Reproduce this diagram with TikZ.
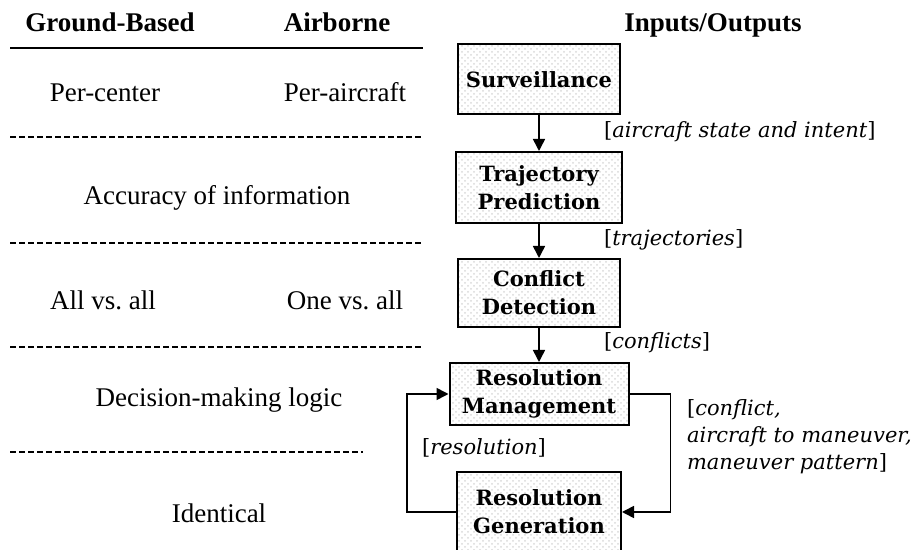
\documentclass[tikz,border=0pt]{standalone}
\usepackage{fontspec}
\setmainfont{Liberation Serif}
\newfontfamily\slabfont{DejaVu Serif}
\usepackage{tikz}
\usetikzlibrary{calc,arrows.meta,patterns}
\tikzset{
    stage/.style={
        draw,
        line width=1pt,
        pattern=crosshatch dots,
        pattern color=gray!30,
        align=center,
        minimum width=81pt,
        minimum height=35pt,
        font=\slabfont\bfseries\fontsize{10.5}{14}\selectfont
    },
    flow/.style={
        line width=0.8pt,
        -{Triangle[length=6pt,width=6pt]}
    },
    dataline/.style={
        anchor=west,
        align=left,
        font=\slabfont\fontsize{10.5}{13.5}\selectfont
    },
    colhead/.style={
        anchor=base,
        font=\bfseries\fontsize{13.5}{16}\selectfont
    },
    rowtext/.style={
        anchor=base,
        font=\fontsize{13.5}{16}\selectfont
    },
    divider/.style={
        line width=1pt,
        dash pattern=on 3pt off 1.5pt
    }
}

\begin{document}
\begin{tikzpicture}[x=0.5pt,y=-0.5pt]

    \useasboundingbox (0,0) rectangle (922,550);

    %% column heads
    \node (GB) [colhead] at (110,32) {Ground-Based};
    \node (AB) [colhead] at (337,32) {Airborne};
    \node (IO) [colhead] at (713,32) {Inputs/Outputs};
    \draw[line width=0.8pt] (10,48) -- (423,48);

    %% comparison rows
    \node (R1a) [rowtext] at (105,102) {Per-center};
    \node (R1b) [rowtext] at (345,102) {Per-aircraft};
    \draw[divider] (10,137) -- (423,137);
    \node (R2) [rowtext] at (217,205) {Accuracy of information};
    \draw[divider] (10,243) -- (423,243);
    \node (R3a) [rowtext] at (103,310) {All vs.\ all};
    \node (R3b) [rowtext] at (345,310) {One vs.\ all};
    \draw[divider] (10,347) -- (423,347);
    \node (R4) [rowtext] at (219,407) {Decision-making logic};
    \draw[divider] (10,452) -- (363,452);
    \node (R5) [rowtext] at (219,523) {Identical};

    %% B1: Surveillance
    \node (B1) [stage] at (539,79.5) {Surveillance};

    %% B2: Trajectory
    \node (B2) [stage,minimum width=83pt,minimum height=35.5pt] at (539,187.5) {Trajectory\\Prediction};
    \draw[flow] (B1.south) -- (B2.north);
    \node (L1) [dataline] at (597,132) {[\textit{aircraft state and intent}]};

    %% B3: Detection
    \node (B3) [stage,minimum height=34pt] at (539,293) {Conflict\\Detection};
    \draw[flow] (B2.south) -- (B3.north);
    \node (L2) [dataline] at (597,240) {[\textit{trajectories}]};

    %% B4: Management
    \node (B4) [stage,minimum width=89.5pt,minimum height=31pt] at (539,394) {Resolution\\Management};
    \draw[flow] (B3.south) -- (B4.north);
    \node (L3) [dataline] at (597,343) {[\textit{conflicts}]};

    %% B5: Generation
    \node (B5) [stage,minimum width=82pt,minimum height=40pt] at (539,512) {Resolution\\Generation};
    \draw[flow] (B4.east) -- ++(41,0) |- (B5.east);
    \draw[flow] (B5.west) -- ++(-49,0) |- (B4.west);
    \node (L4) [dataline] at (415,448) {[\textit{resolution}]};
    \node (L5) [dataline] at (680,437) {[\textit{conflict,}\\\textit{aircraft to maneuver,}\\\textit{maneuver pattern}]};

\end{tikzpicture}
\end{document}
